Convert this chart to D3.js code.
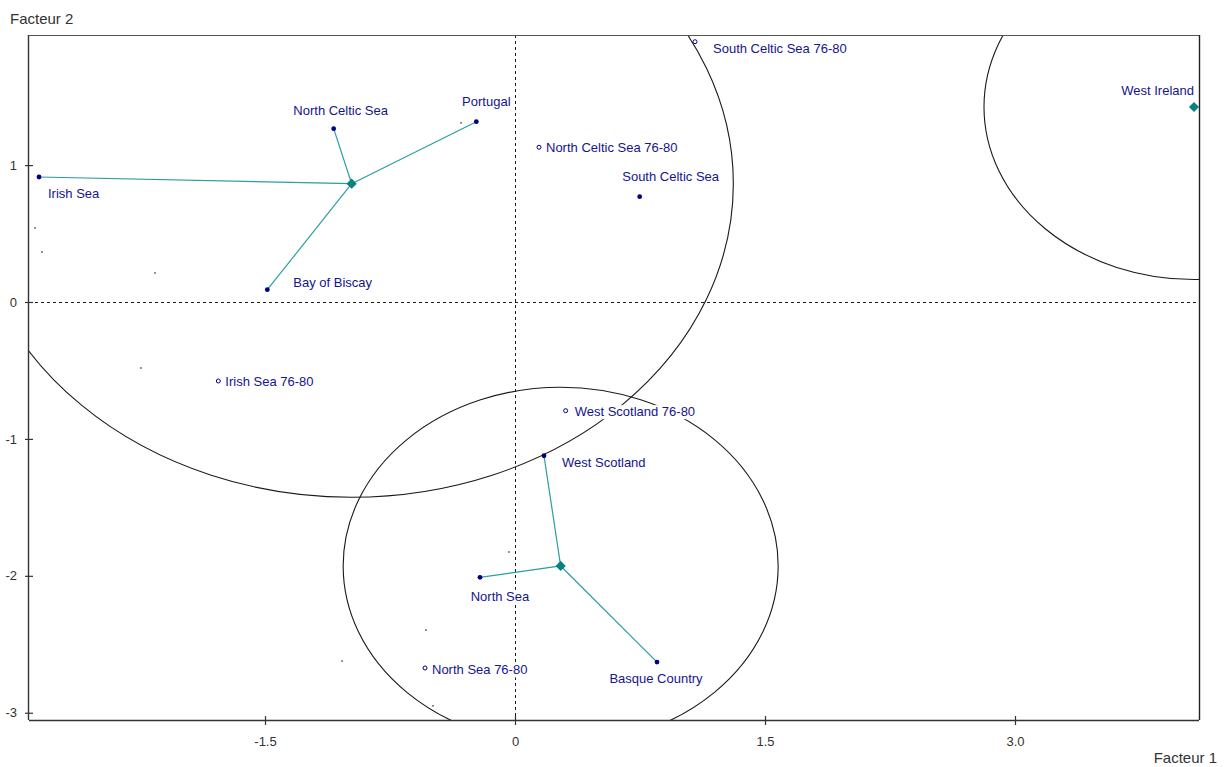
<!DOCTYPE html>
<html>
<head>
<meta charset="utf-8">
<script src="https://cdn.jsdelivr.net/npm/d3@7"></script>
<style>
  html, body { margin: 0; padding: 0; background: #fff; }
  svg { display: block; font-family: "Liberation Sans", Arial, sans-serif; }
</style>
</head>
<body>
<svg id="chart" width="1228" height="767"></svg>
<script>
// Factorial map: stations on factors 1 and 2

// Active stations
const activeNames = ["Irish Sea", "North Celtic Sea", "Portugal", "Bay of Biscay",
                     "South Celtic Sea", "West Scotland", "North Sea", "Basque Country"];
const activeF1 = [-2.856, -1.088, -0.232, -1.486, 0.748, 0.174, -0.210, 0.852];
const activeF2 = [0.913, 1.266, 1.317, 0.090, 0.769, -1.123, -2.011, -2.630];

// Supplementary stations (1976-80 period)
const suppNames = ["North Celtic Sea 76-80", "South Celtic Sea 76-80", "Irish Sea 76-80",
                   "West Scotland 76-80", "North Sea 76-80"];
const suppF1 = [0.144, 1.080, -1.780, 0.304, -0.540];
const suppF2 = [1.130, 1.901, -0.577, -0.794, -2.673];

// Group centres, their members and the radius of each group circle
const groupNames = ["G1", "G2", "West Ireland"];
const groupF1 = [-0.980, 0.274, 4.074];
const groupF2 = [0.864, -1.928, 1.424];
const groupRadius = [2.29, 1.305, 1.26];
const groupMembers = [
  ["Irish Sea", "North Celtic Sea", "Portugal", "Bay of Biscay"],
  ["West Scotland", "North Sea", "Basque Country"],
  []
];
const groupLabels = ["", "", "West Ireland"];

// Individual observations
const obsF1 = [-2.880, -2.838, -2.160, -2.244, -0.324, -0.036, -0.534, -1.038, -0.492];
const obsF2 = [0.541, 0.365, 0.212, -0.482, 1.308, -1.826, -2.396, -2.622, -2.950];

// Axes
const xTicks = [-1.5, 0, 1.5, 3.0];
const xTickLabels = ["-1.5", "0", "1.5", "3.0"];
const yTicks = [1, 0, -1, -2, -3];
const yTickLabels = ["1", "0", "-1", "-2", "-3"];
const xDomain = [-2.916, 4.104];
const yDomain = [-3.053, 1.950];

// Label placement (pixels, relative to the mark)
const labelPlacement = {
  "Irish Sea": { dx: 9, dy: 17, anchor: "start" },
  "North Celtic Sea": { dx: 7, dy: -18, anchor: "middle" },
  "Portugal": { dx: 10, dy: -20, anchor: "middle" },
  "Bay of Biscay": { dx: 26, dy: -7, anchor: "start" },
  "South Celtic Sea": { dx: 31, dy: -20, anchor: "middle" },
  "West Scotland": { dx: 18, dy: 7, anchor: "start" },
  "North Sea": { dx: 20, dy: 19, anchor: "middle" },
  "Basque Country": { dx: -1, dy: 16, anchor: "middle" },
  "North Celtic Sea 76-80": { dx: 7, dy: 0, anchor: "start" },
  "South Celtic Sea 76-80": { dx: 18, dy: 7, anchor: "start" },
  "Irish Sea 76-80": { dx: 7, dy: 1, anchor: "start" },
  "West Scotland 76-80": { dx: 9, dy: 1, anchor: "start" },
  "North Sea 76-80": { dx: 7, dy: 2, anchor: "start" },
  "West Ireland": { dx: 0, dy: -17, anchor: "end" }
};

const plot = { left: 29, right: 1199, top: 35, bottom: 720 };
const navy = "#000080";
const labelColor = "#14148f";
const teal = "#2c9e9e";
const tealDark = "#078282";
const inkColor = "#333";

const svg = d3.select("#chart");
const x = d3.scaleLinear().domain(xDomain).range([plot.left, plot.right]);
const y = d3.scaleLinear().domain(yDomain).range([plot.bottom, plot.top]);

svg.append("defs").append("clipPath").attr("id", "plotClip")
  .append("rect")
  .attr("x", plot.left).attr("y", plot.top)
  .attr("width", plot.right - plot.left).attr("height", plot.bottom - plot.top);

const inner = svg.append("g").attr("clip-path", "url(#plotClip)");

// Zero reference lines
inner.append("line")
  .attr("x1", x(0) + 0.5).attr("x2", x(0) + 0.5).attr("y1", plot.top).attr("y2", plot.bottom)
  .attr("stroke", "#1a1a1a").attr("stroke-width", 1).attr("stroke-dasharray", "3,3");
inner.append("line")
  .attr("x1", plot.left).attr("x2", plot.right).attr("y1", y(0) + 0.5).attr("y2", y(0) + 0.5)
  .attr("stroke", "#1a1a1a").attr("stroke-width", 1).attr("stroke-dasharray", "3,3");

// Group circles (radius in factor units)
const groups = groupNames.map((n, i) => ({
  name: n, f1: groupF1[i], f2: groupF2[i], r: groupRadius[i],
  members: groupMembers[i], label: groupLabels[i]
}));
inner.selectAll("ellipse.group").data(groups).join("ellipse")
  .attr("class", "group")
  .attr("cx", d => x(d.f1)).attr("cy", d => y(d.f2))
  .attr("rx", d => x(d.f1 + d.r) - x(d.f1))
  .attr("ry", d => y(d.f2) - y(d.f2 + d.r))
  .attr("fill", "none").attr("stroke", "#1a1a1a").attr("stroke-width", 1.1);

// Links from each centre to its members
const active = activeNames.map((n, i) => ({ name: n, f1: activeF1[i], f2: activeF2[i] }));
const activeByName = new Map(active.map(d => [d.name, d]));
const links = [];
groups.forEach(g => g.members.forEach(m => links.push({ g, m: activeByName.get(m) })));
inner.selectAll("line.link").data(links).join("line")
  .attr("class", "link")
  .attr("x1", d => x(d.g.f1)).attr("y1", d => y(d.g.f2))
  .attr("x2", d => x(d.m.f1)).attr("y2", d => y(d.m.f2))
  .attr("stroke", teal).attr("stroke-width", 1.2);

// Observations
const obs = obsF1.map((v, i) => ({ f1: v, f2: obsF2[i] }));
inner.selectAll("rect.obs").data(obs).join("rect")
  .attr("class", "obs")
  .attr("x", d => x(d.f1) - 0.75).attr("y", d => y(d.f2) - 0.75)
  .attr("width", 1.5).attr("height", 1.5).attr("fill", "#444");

// Labels sit on white boxes that mask the lines behind them
const labelled = [];
activeNames.forEach((n, i) => labelled.push({ name: n, f1: activeF1[i], f2: activeF2[i] }));
suppNames.forEach((n, i) => labelled.push({ name: n, f1: suppF1[i], f2: suppF2[i] }));
groups.filter(g => g.label).forEach(g => labelled.push({ name: g.label, f1: g.f1, f2: g.f2 }));

const labelLayer = inner.append("g");
const labelGroups = labelLayer.selectAll("g.lbl").data(labelled).join("g").attr("class", "lbl");
const labelBoxes = labelGroups.append("rect").attr("fill", "#fff");
const labelTexts = labelGroups.append("text")
  .attr("x", d => x(d.f1) + labelPlacement[d.name].dx)
  .attr("y", d => y(d.f2) + labelPlacement[d.name].dy)
  .attr("text-anchor", d => labelPlacement[d.name].anchor)
  .attr("dominant-baseline", "central")
  .attr("font-size", 13)
  .attr("fill", labelColor)
  .text(d => d.name);
labelTexts.each(function () {
  const b = this.getBBox();
  d3.select(this.previousSibling)
    .attr("x", b.x - 1).attr("y", b.y + 1)
    .attr("width", b.width + 2).attr("height", b.height - 1);
});

// Active stations
inner.selectAll("circle.active").data(active).join("circle")
  .attr("class", "active")
  .attr("cx", d => x(d.f1)).attr("cy", d => y(d.f2)).attr("r", 2.4)
  .attr("fill", navy);

// Supplementary stations
const supp = suppNames.map((n, i) => ({ name: n, f1: suppF1[i], f2: suppF2[i] }));
inner.selectAll("circle.supp").data(supp).join("circle")
  .attr("class", "supp")
  .attr("cx", d => x(d.f1)).attr("cy", d => y(d.f2)).attr("r", 2)
  .attr("fill", "#fff").attr("stroke", navy).attr("stroke-width", 1);

// Group centres (diamonds)
const diamond = d3.symbol().type(d3.symbolSquare).size(52);
inner.selectAll("path.centre").data(groups).join("path")
  .attr("class", "centre")
  .attr("d", diamond)
  .attr("transform", d => `translate(${x(d.f1)},${y(d.f2)}) rotate(45)`)
  .attr("fill", tealDark);

// Frame: top and right edges
svg.append("line").attr("x1", plot.left).attr("x2", plot.right)
  .attr("y1", plot.top + 0.5).attr("y2", plot.top + 0.5)
  .attr("stroke", "#555").attr("stroke-width", 1.2);
svg.append("line").attr("x1", plot.right + 0.5).attr("x2", plot.right + 0.5)
  .attr("y1", plot.top).attr("y2", plot.bottom)
  .attr("stroke", "#222").attr("stroke-width", 1.4);

// Bottom axis
const xAxis = svg.append("g")
  .attr("transform", `translate(0,${plot.bottom})`)
  .call(d3.axisBottom(x).tickValues(xTicks)
    .tickFormat((d, i) => xTickLabels[i]).tickSizeOuter(0).tickSizeInner(5).tickPadding(12));
xAxis.select(".domain").attr("stroke", inkColor).attr("stroke-width", 1.4)
  .attr("d", `M${plot.left},0.5H${plot.right}`);
xAxis.selectAll(".tick line").attr("y1", -4).attr("y2", 5).attr("stroke", inkColor).attr("stroke-width", 1.2);
xAxis.selectAll(".tick text").attr("font-size", 13).attr("fill", inkColor)
  .attr("font-family", "'Liberation Sans', Arial, sans-serif");

// Left axis
const yAxis = svg.append("g")
  .attr("transform", `translate(${plot.left},0)`)
  .call(d3.axisLeft(y).tickValues(yTicks)
    .tickFormat((d, i) => yTickLabels[i]).tickSizeOuter(0).tickSizeInner(4).tickPadding(8));
yAxis.select(".domain").attr("stroke", inkColor).attr("stroke-width", 1.4)
  .attr("d", `M-0.5,${plot.top}V${plot.bottom}`);
yAxis.selectAll(".tick line").attr("x1", -4).attr("x2", 4).attr("stroke", inkColor).attr("stroke-width", 1.2);
yAxis.selectAll(".tick text").attr("font-size", 13).attr("fill", inkColor)
  .attr("font-family", "'Liberation Sans', Arial, sans-serif");

// Axis titles
svg.append("text").attr("x", 10).attr("y", 18).attr("dominant-baseline", "central")
  .attr("font-size", 15).attr("fill", inkColor).text("Facteur 2");
svg.append("text").attr("x", 1217).attr("y", 757).attr("text-anchor", "end")
  .attr("dominant-baseline", "central")
  .attr("font-size", 15).attr("fill", inkColor).text("Facteur 1");
</script>
</body>
</html>
